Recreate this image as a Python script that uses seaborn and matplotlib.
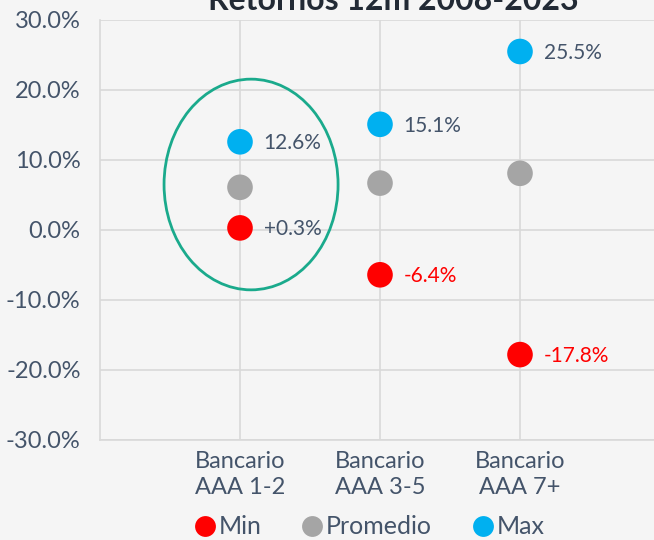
import matplotlib

matplotlib.use("Agg")
import matplotlib.pyplot as plt
import numpy as np
import pandas as pd
import seaborn as sns
from matplotlib.lines import Line2D
from matplotlib.patches import Ellipse

CATEGORIES = ["Bancario\nAAA 1-2", "Bancario\nAAA 3-5", "Bancario\nAAA 7+"]
MIN_VALUES = [0.3, -6.4, -17.8]
AVG_VALUES = [6.1, 6.7, 8.1]
MAX_VALUES = [12.6, 15.1, 25.5]
MIN_LABELS = ["+0.3%", "-6.4%", "-17.8%"]
MAX_LABELS = ["12.6%", "15.1%", "25.5%"]
SERIES = ["Min", "Promedio", "Max"]
Y_TICKS = [-30, -20, -10, 0, 10, 20, 30]

COLORS = {"Min": "#FF0000", "Promedio": "#A5A5A5", "Max": "#00B0F0"}
TEXT = "#44546A"
BG = "#F5F5F5"
GRID = "#D9D9D9"

sns.set_theme(style="white")
plt.rcParams["font.family"] = ["Lato", "DejaVu Sans"]

data = pd.DataFrame(
    {
        "x": np.tile(np.arange(len(CATEGORIES)), 3),
        "value": MIN_VALUES + AVG_VALUES + MAX_VALUES,
        "serie": np.repeat(SERIES, len(CATEGORIES)),
    }
)

fig = plt.figure(figsize=(6.54, 5.40), dpi=100, facecolor=BG)
ax = fig.add_axes([100 / 654, 100 / 540, 560 / 654, 420 / 540])
ax.set_facecolor(BG)

sns.scatterplot(
    data=data,
    x="x",
    y="value",
    hue="serie",
    palette=COLORS,
    s=340,
    edgecolor="none",
    legend=False,
    zorder=3,
    ax=ax,
)

# value labels next to max and min points
for i in range(len(CATEGORIES)):
    ax.annotate(MAX_LABELS[i], (i, MAX_VALUES[i]), xytext=(17, -1),
                textcoords="offset points", ha="left", va="center",
                fontsize=15, color=TEXT)
    min_color = TEXT if MIN_VALUES[i] >= 0 else "#FF0000"
    ax.annotate(MIN_LABELS[i], (i, MIN_VALUES[i]), xytext=(17, -1),
                textcoords="offset points", ha="left", va="center",
                fontsize=15, color=min_color)

ax.add_patch(Ellipse((0.079, 6.5), 1.243, 30.1, fill=False,
                     edgecolor="#1AAA8C", linewidth=2, zorder=4))

ax.set_xlim(-1, 3)
ax.set_ylim(-30, 30)
ax.set_xticks(range(len(CATEGORIES)), CATEGORIES)
ax.set_yticks(Y_TICKS, [f"{v:.1f}%" for v in Y_TICKS])
ax.tick_params(axis="both", length=0, labelcolor=TEXT)
ax.tick_params(axis="x", pad=8, labelsize=17)
ax.tick_params(axis="y", pad=14, labelsize=17)
for label in ax.get_xticklabels():
    label.set_linespacing(1.3)
ax.grid(True, color=GRID, linewidth=1.2)
ax.set_axisbelow(True)
for side in ["top", "right"]:
    ax.spines[side].set_visible(False)
for side in ["left", "bottom"]:
    ax.spines[side].set_color(GRID)
    ax.spines[side].set_linewidth(1.2)
ax.set_xlabel("")
ax.set_ylabel("")

fig.text(393 / 654, 1 - 10 / 540, "Retornos 12m 2008-2023", ha="center",
         va="baseline", fontsize=23, fontweight="bold", color="#222A35")

handles = [Line2D([], [], marker="o", linestyle="", markersize=15,
                  markerfacecolor=COLORS[s], markeredgecolor="none", label=s)
           for s in SERIES]
fig.legend(handles=handles, loc="center", bbox_to_anchor=(368 / 654, 1 - 527 / 540),
           ncol=3, frameon=False, fontsize=18, labelcolor=TEXT,
           handletextpad=0.0, columnspacing=1.5, handlelength=1.1)

fig.savefig("out.png", dpi=100, facecolor=BG)
